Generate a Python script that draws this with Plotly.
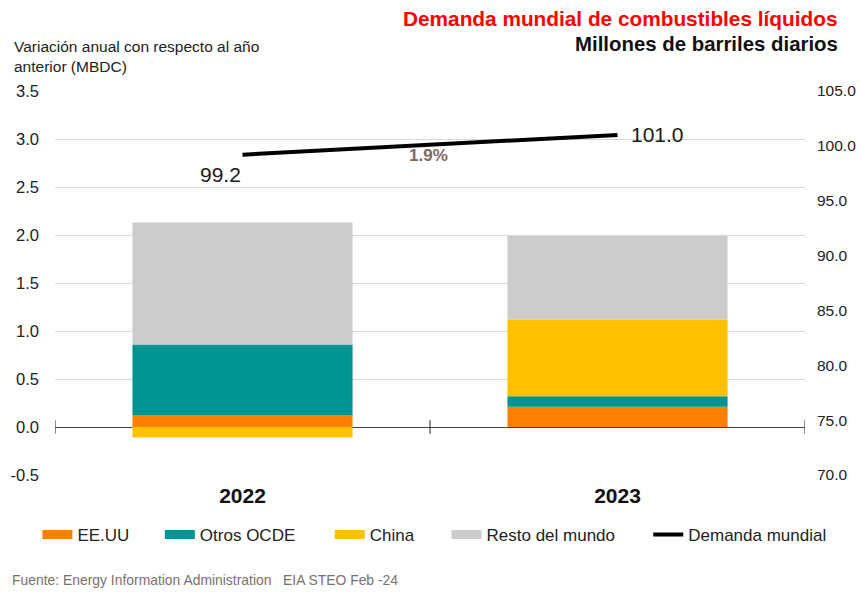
import plotly.graph_objects as go

# ---- data ----
years = ["2022", "2023"]
eeuu = [0.12, 0.21]
otros_ocde = [0.74, 0.11]
china = [-0.11, 0.80]
resto = [1.27, 0.87]
demanda = [99.2, 101.0]
growth_label = "1.9%"

left_ticks = [-0.5, 0.0, 0.5, 1.0, 1.5, 2.0, 2.5, 3.0, 3.5]
left_tick_labels = ["-0.5", "0.0", "0.5", "1.0", "1.5", "2.0", "2.5", "3.0", "3.5"]
right_ticks = [70, 75, 80, 85, 90, 95, 100, 105]

FONT = "Liberation Sans, Arial, sans-serif"
C_ORANGE = "#FF8000"
C_TEAL = "#009492"
C_YELLOW = "#FFC000"
C_GREY = "#CCCCCC"

fig = go.Figure()

bar_series = [
    ("EE.UU", eeuu, C_ORANGE, "legend"),
    ("Otros OCDE", otros_ocde, C_TEAL, "legend2"),
    ("China", china, C_YELLOW, "legend3"),
    ("Resto del mundo", resto, C_GREY, "legend4"),
]
for name, vals, col, lg in bar_series:
    fig.add_trace(go.Bar(
        x=years, y=vals, name=name, marker=dict(color=col, line=dict(width=0)),
        width=0.587, showlegend=False, hoverinfo="skip",
    ))
for name, vals, col, lg in bar_series:
    # legend entry with a wide rectangular swatch
    fig.add_trace(go.Scatter(
        x=[years[0]], y=[None], mode="lines", name=name,
        line=dict(color=col, width=9), legend=lg, hoverinfo="skip",
    ))

fig.add_trace(go.Scatter(
    x=years, y=demanda, name="Demanda mundial", yaxis="y2",
    mode="lines", line=dict(color="black", width=4),
    legend="legend5", cliponaxis=False, hoverinfo="skip",
))

# value labels of the line (category index positions)
fig.add_annotation(x=0, y=demanda[0], xref="x", yref="y2", text=f"{demanda[0]:.1f}",
                   showarrow=False, xanchor="right", yanchor="top", xshift=0, yshift=-6,
                   font=dict(size=21, color="#1a1a1a", family=FONT))
fig.add_annotation(x=1, y=demanda[1], xref="x", yref="y2", text=f"{demanda[1]:.1f}",
                   showarrow=False, xanchor="left", yanchor="middle", xshift=11, yshift=0,
                   font=dict(size=21, color="#1a1a1a", family=FONT))

# growth label
fig.add_annotation(x=0.5, y=99.1, xref="x", yref="y2", text=f"<b>{growth_label}</b>",
                   showarrow=False, xshift=-2, font=dict(size=17, color="#7a6a62", family=FONT))

# category boundary tick marks on zero line
for bx in [-0.5, 0.5, 1.5]:
    fig.add_shape(type="line", xref="x", yref="y", x0=bx, x1=bx, y0=-0.07, y1=0.07,
                  line=dict(color="#404040", width=1.2))

# titles
fig.add_annotation(xref="paper", yref="paper", x=1.047, y=1.190, xanchor="right", yanchor="middle",
                   text="<b>Demanda mundial de combustibles líquidos</b>", showarrow=False,
                   font=dict(size=20.8, color="#FF0000", family=FONT))
fig.add_annotation(xref="paper", yref="paper", x=1.047, y=1.123, xanchor="right", yanchor="middle",
                   text="<b>Millones de barriles diarios</b>", showarrow=False,
                   font=dict(size=20.4, color="#111111", family=FONT))
fig.add_annotation(xref="paper", yref="paper", x=-0.058, y=1.090, xanchor="left", yanchor="middle",
                   text="Variación anual con respecto al año<br>anterior (MBDC)", showarrow=False,
                   align="left", font=dict(size=15.5, color="#222222", family=FONT))
fig.add_annotation(xref="paper", yref="paper", x=-0.06, y=-0.273, xanchor="left", yanchor="middle",
                   text="Fuente: Energy Information Administration   EIA STEO Feb -24", showarrow=False,
                   align="left", font=dict(size=13.9, color="#7b706b", family=FONT))

leg_common = dict(orientation="h", yanchor="middle", y=-0.156, xanchor="left",
                  font=dict(size=17, color="#222222", family=FONT), bgcolor="rgba(0,0,0,0)",
                  itemwidth=30)

fig.update_layout(
    width=860, height=592,
    margin=dict(l=55, r=55, t=91, b=117, autoexpand=False),
    paper_bgcolor="white", plot_bgcolor="white",
    barmode="relative",
    font=dict(family=FONT, size=16, color="#222222"),
    xaxis=dict(type="category", categoryorder="array", categoryarray=years,
               range=[-0.5, 1.5], showline=False, ticks="", showgrid=False,
               automargin=False,
               tickfont=dict(size=21, color="#111111", family=FONT),
               ticklabelstandoff=6, tickprefix="<b>", ticksuffix="</b>"),
    yaxis=dict(range=[-0.5, 3.5], tickvals=left_ticks, ticktext=left_tick_labels,
               showgrid=True, gridcolor="#D9D9D9", gridwidth=1,
               zeroline=True, zerolinecolor="#404040", zerolinewidth=1.2,
               showline=False, ticks="", ticklabelstandoff=15, automargin=False,
               tickfont=dict(size=16.5, color="#222222")),
    yaxis2=dict(range=[70, 105], tickvals=right_ticks, tickformat=".1f",
                overlaying="y", side="right", showgrid=False, zeroline=False,
                showline=False, ticks="", ticklabelstandoff=11, automargin=False,
                tickfont=dict(size=15.5, color="#222222")),
    legend=dict(x=-0.0235, **leg_common),
    legend2=dict(x=0.1398, **leg_common),
    legend3=dict(x=0.3663, **leg_common),
    legend4=dict(x=0.522, **leg_common),
    legend5=dict(x=0.791, **leg_common),
    showlegend=True,
)

fig.write_html("out.html", config={"displayModeBar": False},
               post_script="document.body.style.margin='0';")
